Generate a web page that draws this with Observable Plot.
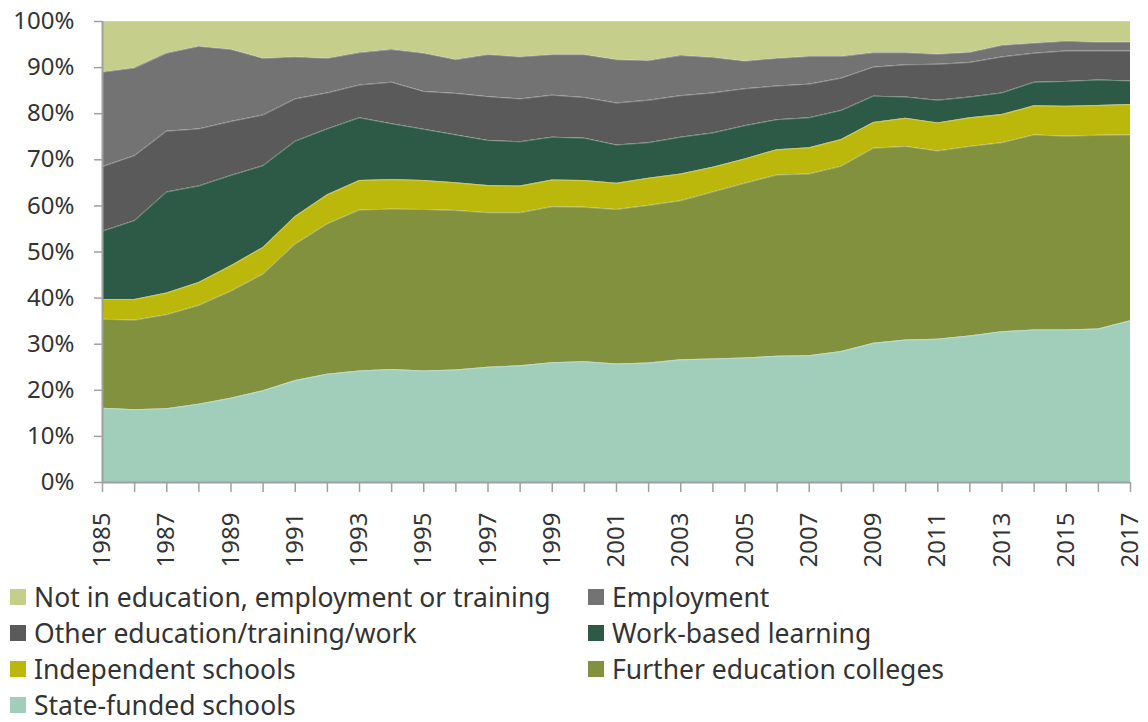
<!DOCTYPE html>
<html>
<head>
<meta charset="utf-8">
<script src="https://cdn.jsdelivr.net/npm/d3@7"></script>
<script src="https://cdn.jsdelivr.net/npm/@observablehq/plot@0.6"></script>
<style>
  html, body { margin: 0; padding: 0; background: #fff; }
  body { position: relative; width: 1148px; height: 722px; overflow: hidden; font-family: "Noto Sans", "Open Sans", sans-serif; }
  #chart { position: absolute; left: 0; top: 0; }
  .item { position: absolute; display: flex; align-items: center; height: 26px; line-height: 26px; font-size: 26.5px; color: #333; white-space: nowrap; }
  .sw { width: 16px; height: 16px; margin-right: 8px; flex: none; }
</style>
</head>
<body>
<div id="chart"></div>
<div id="legend"></div>
<script>
const years = [1985,1986,1987,1988,1989,1990,1991,1992,1993,1994,1995,1996,1997,1998,1999,2000,2001,2002,2003,2004,2005,2006,2007,2008,2009,2010,2011,2012,2013,2014,2015,2016,2017];

// Percent of cohort, bottom of stack first
const stateFunded   = [16.1,15.8,16.0,17.0,18.3,19.9,22.1,23.5,24.2,24.5,24.2,24.4,25.0,25.3,26.0,26.2,25.7,25.9,26.6,26.8,27.0,27.4,27.5,28.4,30.2,30.9,31.1,31.8,32.7,33.1,33.1,33.3,35.1];
const furtherEd     = [19.3,19.4,20.4,21.4,23.2,25.3,29.6,32.6,34.9,34.8,35.0,34.6,33.5,33.2,33.8,33.5,33.5,34.2,34.5,36.2,37.9,39.3,39.4,40.2,42.3,42.0,40.8,41.1,41.0,42.3,42.0,42.0,40.3];
const independent   = [4.3,4.5,4.7,5.0,5.5,5.8,6.0,6.3,6.4,6.4,6.3,6.0,5.9,5.8,5.8,5.8,5.7,5.9,5.8,5.4,5.3,5.5,5.7,5.8,5.6,6.1,6.1,6.2,6.1,6.3,6.5,6.5,6.6];
const workBased     = [14.8,17.1,21.9,20.9,19.6,17.7,16.3,14.3,13.6,12.1,11.1,10.4,9.8,9.6,9.3,9.2,8.3,7.7,8.0,7.4,7.2,6.5,6.5,6.3,5.7,4.6,4.9,4.5,4.7,5.1,5.4,5.5,5.1];
const otherEdu      = [14.0,14.1,13.2,12.4,11.7,11.0,9.2,7.8,7.1,9.0,8.2,9.0,9.5,9.3,9.1,8.8,9.1,9.2,9.0,8.7,8.0,7.3,7.3,7.0,6.3,7.0,7.8,7.5,7.8,6.3,6.6,6.3,6.5];
const employment    = [20.5,19.0,16.9,17.9,15.6,12.3,9.1,7.5,7.0,7.1,8.3,7.3,9.1,9.1,8.8,9.3,9.4,8.6,8.7,7.7,6.0,6.0,6.0,4.7,3.1,2.6,2.2,2.2,2.5,2.2,2.1,1.9,1.9];
const neet          = [11.0,10.1,6.9,5.4,6.1,8.0,7.7,8.0,6.8,6.1,6.9,8.3,7.2,7.7,7.2,7.2,8.3,8.5,7.4,7.8,8.6,8.0,7.6,7.6,6.8,6.8,7.1,6.7,5.2,4.7,4.3,4.5,4.5];

const seriesNames = [
  "State-funded schools",
  "Further education colleges",
  "Independent schools",
  "Work-based learning",
  "Other education/training/work",
  "Employment",
  "Not in education, employment or training"
];
const seriesColors = ["#a1cebb","#82913e","#bcb70b","#2d5a46","#5a5a5a","#737373","#c5cf8b"];
const legendOrder = [
  "Not in education, employment or training", "Employment",
  "Other education/training/work", "Work-based learning",
  "Independent schools", "Further education colleges",
  "State-funded schools"
];
const yTicks = [0,10,20,30,40,50,60,70,80,90,100];

const seriesValues = [stateFunded, furtherEd, independent, workBased, otherEdu, employment, neet];
const data = [];
seriesNames.forEach((name, i) => {
  years.forEach((yr, j) => data.push({series: name, year: yr, value: seriesValues[i][j]}));
});

const chart = Plot.plot({
  width: 1148,
  height: 580,
  marginLeft: 102,
  marginRight: 18,
  marginTop: 21,
  marginBottom: 98,
  style: {fontFamily: "'Noto Sans', 'Open Sans', sans-serif", background: "#fff"},
  x: {type: "linear", domain: [1985, 2017]},
  y: {domain: [0, 100]},
  color: {domain: seriesNames, range: seriesColors},
  marks: [
    Plot.areaY(data, Plot.stackY({x: "year", y: "value", z: "series", fill: "series", order: seriesNames, curve: "linear"})),
    Plot.lineY(data, Plot.stackY2({x: "year", y: "value", z: "series", order: seriesNames, stroke: "#ffffff", strokeOpacity: 0.3, strokeWidth: 1})),
    Plot.ruleY([100], {stroke: "#d0d0d0", strokeWidth: 1}),
    Plot.axisY({ticks: yTicks, tickFormat: d => d + "%", tickSize: 8, tickPadding: 20, fontSize: 24, stroke: "#a0a0a0", fill: "#333", strokeWidth: 1.5, label: null}),
    Plot.axisX({ticks: years, tickFormat: d => (d % 2 === 1 ? String(d) : ""), tickSize: 10, tickPadding: 20, tickRotate: -90, fontSize: 24, stroke: "#a0a0a0", fill: "#333", strokeWidth: 1.5, label: null}),
    Plot.ruleY([0], {stroke: "#a0a0a0", strokeWidth: 2}),
    Plot.ruleX([1985], {stroke: "#a0a0a0", strokeWidth: 2})
  ]
});
document.getElementById("chart").appendChild(chart);

// Legend: two columns, four rows
const legend = document.getElementById("legend");
legendOrder.forEach((name, i) => {
  const it = document.createElement("div");
  it.className = "item";
  it.style.left = (i % 2 === 0 ? 10 : 588) + "px";
  it.style.top = (584 + Math.floor(i / 2) * 36) + "px";
  const sw = document.createElement("span");
  sw.className = "sw";
  sw.style.background = seriesColors[seriesNames.indexOf(name)];
  const tx = document.createElement("span");
  tx.textContent = name;
  it.appendChild(sw);
  it.appendChild(tx);
  legend.appendChild(it);
});
</script>
</body>
</html>
